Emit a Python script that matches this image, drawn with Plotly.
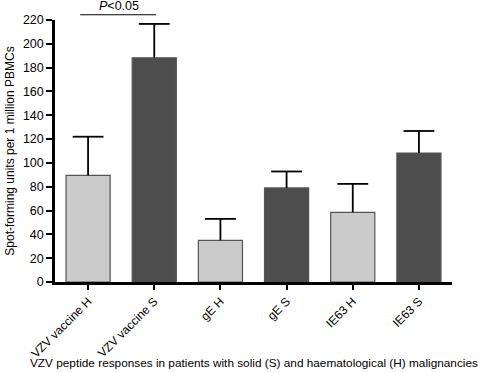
import plotly.graph_objects as go

categories = ["VZV vaccine H", "VZV vaccine S", "gE H", "gE S", "IE63 H", "IE63 S"]
means = [89.5, 188.3, 35.0, 79.0, 58.5, 108.3]
upper_err = [32.5, 28.4, 18.0, 13.8, 23.9, 18.5]
groups = ["H", "S", "H", "S", "H", "S"]

color_map = {"H": "#cbcbcb", "S": "#4d4d4d"}
colors = [color_map[g] for g in groups]

font_family = "Liberation Sans, Arial, sans-serif"
xpos = list(range(len(categories)))
err_tops = [m + e for m, e in zip(means, upper_err)]

fig = go.Figure()
fig.add_trace(go.Bar(
    x=xpos,
    y=means,
    width=0.667,
    marker=dict(color=colors, line=dict(color="#555555", width=1.2)),
    error_y=dict(type="data", symmetric=False, array=upper_err,
                 arrayminus=[0] * len(means), color="black",
                 thickness=1.8, width=0),
    showlegend=False,
))
# error-bar caps (top only)
fig.add_trace(go.Scatter(
    x=xpos, y=err_tops, mode="markers",
    marker=dict(symbol="line-ew", size=22, line=dict(color="black", width=1.8)),
    showlegend=False, hoverinfo="skip", cliponaxis=False,
))

fig.update_layout(
    width=484, height=372,
    margin=dict(l=55, r=32, t=20, b=90),
    plot_bgcolor="white", paper_bgcolor="white",
    font=dict(family=font_family, size=12, color="black"),
)
fig.update_xaxes(
    range=[-0.5, 5.5],
    tickmode="array",
    tickvals=xpos,
    ticktext=categories,
    tickangle=-45,
    ticks="outside", ticklen=5, tickwidth=1.5, tickcolor="black",
    showline=True, linecolor="black", linewidth=2.5,
    showgrid=False, zeroline=False, automargin=False,
    tickfont=dict(size=12),
)
fig.update_yaxes(
    range=[0, 220],
    tickmode="linear", tick0=0, dtick=20,
    ticks="outside", ticklen=6, tickwidth=1.5, tickcolor="black",
    showline=True, linecolor="black", linewidth=2.5,
    showgrid=False, zeroline=False, automargin=False,
    title=dict(text="Spot-forming units per 1 million PBMCs", font=dict(size=12), standoff=6),
    tickfont=dict(size=12.5),
)

# significance bracket
fig.add_shape(type="line", xref="x", yref="paper",
              x0=-0.12, x1=1.03, y0=1.02, y1=1.02,
              line=dict(color="black", width=1.2))
fig.add_annotation(xref="x", yref="paper", x=0.46, y=1.025,
                   text="<i>P</i>&lt;0.05", showarrow=False,
                   yanchor="bottom", yshift=-2, font=dict(size=12.5))

fig.add_annotation(xref="paper", yref="paper", x=0.5, y=0, yshift=-81,
                   text="VZV peptide responses in patients with solid (S) and haematological (H) malignancies",
                   showarrow=False, xanchor="center", yanchor="middle",
                   font=dict(size=11.8))

fig.write_html("out.html", config={"displayModeBar": False},
               post_script="document.body.style.margin='0';document.body.style.overflow='hidden';")
